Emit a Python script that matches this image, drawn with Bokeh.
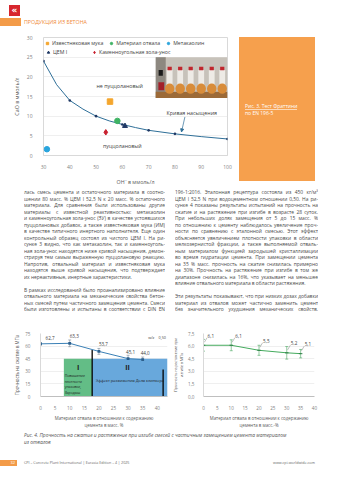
from bokeh.plotting import figure
from bokeh.layouts import column, row
from bokeh.models import (ColumnDataSource, Range1d, FixedTicker, Legend, LegendItem,
                          LabelSet, Label, Arrow, NormalHead, Whisker, TeeHead, Div,
                          CustomJSTickFormatter)
from bokeh.embed import file_html
from bokeh.resources import INLINE
from bokeh.core.properties import value

FONT = "Open Sans"
TICK = "#7f7f7f"
AXT = "#595959"

# ---------------- Fig. 3 data (Frattini test) ----------------
curve_oh = [30, 35, 40, 45, 50, 55, 60, 65, 70, 80, 90, 100]
curve_cao = [24.0, 18.0, 14.0, 11.8, 10.0, 8.8, 7.9, 7.1, 6.4, 5.5, 4.8, 4.2]
node_oh = [30, 40, 50, 60, 70, 80, 100]
node_cao = [24.0, 14.0, 10.0, 7.9, 6.4, 5.5, 4.2]

materials = ["Известняковая мука", "Материал отвала", "Метакаолин", "ЦЕМ I",
             "Каменноугольная зола-унос"]
mat_oh = [55.3, 58.1, 31.3, 61.0, 53.7]
mat_cao = [13.7, 8.8, 1.6, 7.5, 5.9]
mat_marker = ["square", "circle", "circle", "triangle", "diamond"]
mat_color = ["#f4a62e", "#3fb364", "#2aa5dd", "#1f3864", "#c8202f"]

x3_ticks = [30, 40, 50, 60, 70, 80, 90, 100]
y3_ticks = [0, 5, 10, 15, 20, 25, 30]

# ---------------- Fig. 4 data (strength) ----------------
repl = [0, 10, 20, 30, 35]
comp = [62.7, 63.3, 53.7, 45.1, 44.0]
comp_err = [1.5, 4.0, 3.5, 4.0, 3.0]
flex = [6.1, 6.1, 5.5, 5.2, 5.1]
flex_err = [0.7, 0.65, 0.6, 0.75, 0.5]
zone_name = ["I", "II"]
zone_left = [8.0, 17.7]
zone_right = [17.7, 43.5]
zone_top = [45.0, 45.0]
zone_text = ["Повышение\nплотности\nупаковки,\nЗародыш\nкристаллизации",
             "Эффект разжижения Доля клинкера"]
x4_ticks = [0, 5, 10, 15, 20, 25, 30, 35, 40]
y4a_ticks = [0, 15, 30, 45, 60, 75]
y4b_ticks = [0, 1.5, 3.0, 4.5, 6.0, 7.5]

# label placement (screen px, style only)
comp_lab_dx = [5, 0, 0, -2, -2]
comp_lab_dy = [4, 5, 5, 5, 5]


def style(p, tick_fs="5px", lab_fs="5.3px"):
    p.toolbar.logo = None
    p.background_fill_color = "white"
    p.border_fill_color = "white"
    for ax in (p.xaxis[0], p.yaxis[0]):
        ax.major_tick_line_color = None
        ax.minor_tick_line_color = None
        ax.major_label_text_font = FONT
        ax.major_label_text_font_size = tick_fs
        ax.major_label_text_color = TICK
        ax.axis_label_text_font = FONT
        ax.axis_label_text_font_style = "normal"
        ax.axis_label_text_font_size = lab_fs
        ax.axis_label_text_color = AXT
    p.xgrid.grid_line_color = None
    p.ygrid.grid_line_color = "#e4e4e4"
    p.ygrid.grid_line_width = 0.6


# ================= Figure 3 =================
p3 = figure(width=235, height=155, x_range=Range1d(30, 100), y_range=Range1d(0, 30),
            output_backend="svg", toolbar_location=None,
            min_border_left=43, min_border_right=8, min_border_top=4, min_border_bottom=24)
style(p3)
p3.outline_line_color = "#d9d9d9"
p3.xaxis.ticker = FixedTicker(ticks=x3_ticks)
p3.yaxis.ticker = FixedTicker(ticks=y3_ticks)
p3.xaxis.axis_label = "OH⁻ в ммоль/л"
p3.yaxis.axis_label = "CaO в ммоль/л"
p3.xaxis.axis_line_color = "#d9d9d9"
p3.yaxis.axis_line_color = None
p3.xaxis.major_label_standoff = 3
p3.yaxis.major_label_standoff = 5
p3.xaxis.axis_label_standoff = 6
p3.yaxis.axis_label_standoff = 3

# photo inset (decorative stand-in for the photograph of the test flasks)
p3.quad(left=72.7, right=100, bottom=14.6, top=25.0, fill_color="#c7c2ba", line_color=None)
p3.quad(left=72.7, right=76.5, bottom=14.6, top=25.0, fill_color="#8d8880", line_color=None)
p3.quad(left=72.7, right=100, bottom=14.6, top=16.2, fill_color="#9c6a38", line_color=None)
p3.rect(x=[78, 82, 86, 90, 94, 98], y=[19.5] * 6, width=2.2, height=4.5,
        fill_color="#eeebe6", line_color=None)
p3.ellipse(x=[78, 82, 86, 90, 94, 98], y=[17.0] * 6, width=3.6, height=2.6,
           fill_color="#d88c3a", line_color=None)
p3.rect(x=[78, 82, 86, 90, 94, 98], y=[22.1] * 6, width=1.6, height=0.9,
        fill_color="#c0262d", line_color=None)
p3.rect(x=[74.6], y=[21.0], width=1.6, height=1.5, fill_color="#1a1a1a", line_color=None)
p3.rect(x=[74.8], y=[17.6], width=2.2, height=2.0, fill_color="#a3202a", line_color=None)

p3.line(curve_oh, curve_cao, line_color="#2f6f98", line_width=1)
p3.scatter(node_oh, node_cao, marker="circle", size=2.6, fill_color="#1f3864", line_color=None)

rends = {}
for n, x, y, mk, c in zip(materials, mat_oh, mat_cao, mat_marker, mat_color):
    rends[n] = p3.scatter([x], [y], marker=mk, size=5.5 if mk != "triangle" else 5,
                          fill_color=c, line_color=c)


def mk_legend(names, loc, spacing):
    lg = Legend(items=[LegendItem(label=n, renderers=[rends[n]]) for n in names],
                location=loc, orientation="horizontal", spacing=spacing,
                padding=0, margin=0, glyph_width=6, glyph_height=6, label_height=6,
                label_standoff=2, label_text_font=FONT, label_text_font_size="5.2px",
                label_text_color="#404040", border_line_color=None,
                background_fill_alpha=0)
    return lg


p3.add_layout(mk_legend(materials[:3], (1, 108), 5))
p3.add_layout(mk_legend(materials[3:], (2, 99), 18))

for txt, x, y in [("не пуццолановый", 59.0, 17.7), ("пуццолановый", 60.0, 2.5),
                  ("Кривая насыщения", 86.4, 10.9)]:
    p3.add_layout(Label(x=x, y=y, text=txt, text_font=FONT, text_font_size="5.3px",
                        text_color="#404040", text_align="center", text_baseline="middle"))
p3.add_layout(Arrow(end=NormalHead(size=3, fill_color="#2f6f98", line_color="#2f6f98"),
                    x_start=83.8, y_start=9.8, x_end=82.5, y_end=6.0,
                    line_color="#2f6f98", line_width=0.7))

# ================= Figure 4a: compressive strength =================
p4a = figure(width=170, height=102, x_range=Range1d(0, 43.5), y_range=Range1d(0, 75),
             output_backend="svg", toolbar_location=None,
             min_border_left=40, min_border_right=3, min_border_top=5, min_border_bottom=20)
style(p4a, tick_fs="4.6px", lab_fs="4.4px")
p4a.outline_line_color = None
p4a.xaxis.ticker = FixedTicker(ticks=x4_ticks)
p4a.yaxis.ticker = FixedTicker(ticks=y4a_ticks)
p4a.xaxis.axis_label = "Материал отвала в отношении к содержанию\nцемента в масс. %"
p4a.yaxis.axis_label = "Прочность на сжатие в МПа"
p4a.xaxis.axis_line_color = "#bfbfbf"
p4a.yaxis.axis_line_color = "#d9d9d9"
p4a.xaxis.major_label_standoff = 3
p4a.yaxis.major_label_standoff = 4
p4a.xaxis.axis_label_standoff = 2
p4a.yaxis.axis_label_standoff = 2

zsrc = ColumnDataSource(dict(l=zone_left, r=zone_right, t=zone_top, b=[0, 0],
                             c=["#63bd86", "#68a8dc"], n=zone_name, txt=zone_text))
p4a.quad(left="l", right="r", top="t", bottom="b", fill_color="c", line_color=None, source=zsrc)
p4a.segment(x0=[zone_left[1], 42.0], y0=[0, 0], x1=[zone_left[1], 42.0], y1=[55.5, 32.0],
            line_color="black", line_width=1.3)
p4a.text(x=[12.9, 29.8], y=[34, 34], text=zone_name, text_font=value(FONT),
         text_font_size="7px", text_font_style="bold", text_color="#1a1a1a",
         text_align="center", text_baseline="middle")
p4a.text(x=[zone_left[0] + 0.3], y=[28], text=[zone_text[0]], text_font=value(FONT),
         text_font_size="3.4px", text_color="#1a1a1a", text_align="left",
         text_baseline="top", text_line_height=1.15)
p4a.text(x=[zone_left[1] + 1.2], y=[19], text=[zone_text[1]], text_font=value(FONT),
         text_font_size="3.9px", text_color="#1a1a1a", text_align="left",
         text_baseline="middle")

csrc = ColumnDataSource(dict(x=repl, y=comp, up=[v + e for v, e in zip(comp, comp_err)],
                             lo=[v - e for v, e in zip(comp, comp_err)],
                             lab=[f"{v:.1f}".replace(".", ",") for v in comp],
                             dx=comp_lab_dx, dy=comp_lab_dy))
p4a.add_layout(Whisker(base="x", upper="up", lower="lo", source=csrc, line_color="#7a8a99",
                       line_width=0.6,
                       upper_head=TeeHead(size=3, line_color="#7a8a99", line_width=0.6),
                       lower_head=TeeHead(size=3, line_color="#7a8a99", line_width=0.6)))
p4a.line("x", "y", source=csrc, line_color="#3b80b6", line_width=1)
p4a.scatter("x", "y", source=csrc, marker="square", size=2.8, fill_color="#2c5f8c", line_color=None)
p4a.add_layout(LabelSet(x="x", y="y", text="lab", source=csrc, x_offset="dx", y_offset="dy",
                        text_font=value(FONT), text_font_size="4.6px", text_color="#404040",
                        text_align="left", text_baseline="bottom"))
p4a.add_layout(Label(x=43, y=70, text="w/z = 0,50", text_font=FONT, text_font_size="3.8px",
                     text_color="#404040", text_align="right", text_baseline="middle"))

# ================= Figure 4b: flexural strength =================
p4b = figure(width=169, height=102, x_range=Range1d(0, 40), y_range=Range1d(0, 7.5),
             output_backend="svg", toolbar_location=None,
             min_border_left=22, min_border_right=25, min_border_top=5, min_border_bottom=20)
style(p4b, tick_fs="4.6px", lab_fs="4.4px")
p4b.outline_line_color = None
p4b.xaxis.ticker = FixedTicker(ticks=x4_ticks)
p4b.yaxis.ticker = FixedTicker(ticks=y4b_ticks)
p4b.yaxis.formatter = CustomJSTickFormatter(code="return tick.toFixed(1).replace('.', ',');")
p4b.xaxis.axis_label = "Материал отвала в отношении к содержанию\nцемента в масс.-%"
p4b.yaxis.axis_label = "Прочность на растяжение при\nизгибе в МПа"
p4b.yaxis.axis_label_text_font_size = "3.6px"
p4b.xaxis.axis_line_color = "#bfbfbf"
p4b.yaxis.axis_line_color = "#d9d9d9"
p4b.xaxis.major_label_standoff = 3
p4b.yaxis.major_label_standoff = 3
p4b.xaxis.axis_label_standoff = 2
p4b.yaxis.axis_label_standoff = 1

fsrc = ColumnDataSource(dict(x=repl, y=flex, up=[v + e for v, e in zip(flex, flex_err)],
                             lo=[v - e for v, e in zip(flex, flex_err)],
                             lab=[f"{v:.1f}".replace(".", ",") for v in flex],
                             lx0=[x + 0.3 for x in repl], ly0=[v + 0.35 for v in flex],
                             lx1=[x + 1.3 for x in repl], ly1=[v + 0.9 for v in flex]))
p4b.add_layout(Whisker(base="x", upper="up", lower="lo", source=fsrc, line_color="#4aa862",
                       line_width=0.6,
                       upper_head=TeeHead(size=3, line_color="#4aa862", line_width=0.6),
                       lower_head=TeeHead(size=3, line_color="#4aa862", line_width=0.6)))
p4b.line("x", "y", source=fsrc, line_color="#45ab5e", line_width=1)
p4b.scatter("x", "y", source=fsrc, marker="dash", size=3.5, line_color="#2e7d45", line_width=1)
p4b.segment(x0="lx0", y0="ly0", x1="lx1", y1="ly1", source=fsrc, line_color="#7f7f7f",
            line_width=0.5)
p4b.add_layout(LabelSet(x="lx1", y="ly1", text="lab", source=fsrc, x_offset=0.5, y_offset=0,
                        text_font=value(FONT), text_font_size="4.6px", text_color="#404040",
                        text_align="left", text_baseline="bottom"))

# ================= page text =================
left_lines = [
    "лась смесь цемента и остаточного материала в соотно-",
    "шении 80 масс. % ЦЕМ I 52,5 N к 20 масс. % остаточного",
    "материала. Для сравнения были использованы другие",
    "материалы с известной реактивностью: метакаолин",
    "и каменноугольная зола-унос (ЗУ) в качестве устоявшихся",
    "пуццолановых добавок, а также известняковая мука (ИМ)",
    "в качестве типичного инертного наполнителя. Еще один",
    "контрольный образец состоял из чистого ЦЕМ I. На ри-",
    "сунке 3 видно, что как метакаолин, так и каменноуголь-",
    "ная зола-унос находятся ниже кривой насыщения, демон-",
    "стрируя тем самым выраженную пуццолановую реакцию.",
    "Напротив, отвальный материал и известняковая мука",
    "находятся выше кривой насыщения, что подтверждает",
    "их нереактивные, инертные характеристики.|",
    "",
    "В рамках исследований было проанализировано влияние",
    "отвального материала на механические свойства бетон-",
    "ных смесей путем частичного замещения цемента. Смеси",
    "были изготовлены и испытаны в соответствии с DIN EN",
]
right_lines = [
    "196-1:2016. Эталонная рецептура состояла из 450 кг/м³",
    "ЦЕМ I 52,5 N при водоцементном отношении 0,50. На ри-",
    "сунке 4 показаны результаты испытаний на прочность на",
    "сжатие и на растяжение при изгибе в возрасте 28 суток.",
    "При небольших долях замещения от 5 до 15 масс. %",
    "по отношению к цементу наблюдалось увеличение проч-",
    "ности по сравнению с эталонной смесью. Этот эффект",
    "объясняется увеличением плотности упаковки в области",
    "мелкозернистой фракции, а также выполняемой отваль-",
    "ным материалом функцией зародышей кристаллизации",
    "во время гидратации цемента. При замещении цемента",
    "на 35 % масс. прочность на сжатие снизилась примерно",
    "на 30%. Прочность на растяжение при изгибе в том же",
    "диапазоне снизилась на 16%, что указывает на меньшее",
    "влияние отвального материала в области растяжения.|",
    "",
    "Эти результаты показывают, что при низких дозах добавки",
    "материал из отвалов может частично заменить цемент",
    "без значительного ухудшения механических свойств.",
]


def col_html(lines, w):
    out = []
    for ln in lines:
        last = ln.endswith("|")
        t = ln.rstrip("|")
        al = "left" if last else "justify"
        out.append(f'<div style="width:{w}px;height:6.5px;line-height:6.5px;white-space:nowrap;'
                   f'overflow:hidden;text-align:justify;text-align-last:{al};">{t or "&nbsp;"}</div>')
    return (f'<div style="font-family:\'{FONT}\';font-size:4.9px;color:#4a4a4a;'
            f'letter-spacing:-0.02px;">' + "".join(out) + "</div>")


header = Div(width=339, height=33, margin=0, text=(
    '<div style="position:relative;width:339px;height:33px;">'
    '<div style="position:absolute;left:9px;top:5px;width:11px;height:11px;background:#d7262d;'
    'color:#fff;font:bold 9px \'DejaVu Sans\';text-align:center;line-height:10px;">«</div>'
    '<div style="position:absolute;left:0;top:18px;width:21px;height:8px;background:#f39b48;"></div>'
    f'<div style="position:absolute;left:24px;top:18px;font-family:\'{FONT}\';font-size:5.3px;'
    'line-height:8px;color:#f08c3a;white-space:nowrap;">ПРОДУКЦИЯ ИЗ БЕТОНА</div></div>'))

orange = Div(width=76, height=144, margin=(4, 0, 0, 4), text=(
    '<div style="position:relative;width:76px;height:144px;background:#f6a04d;">'
    f'<div style="position:absolute;left:6px;top:66px;font-family:\'{FONT}\';font-size:5px;'
    'line-height:6.5px;color:#fff;white-space:nowrap;">'
    '<span style="border-bottom:0.5px solid rgba(255,255,255,0.6);">Рис. 3. Тест Фраттини</span>'
    '<br>по EN 196-5</div></div>'))

left_txt = Div(width=141, height=139, margin=(1, 0, 0, 24), text=col_html(left_lines, 141))
right_txt = Div(width=143, height=139, margin=(1, 0, 0, 10), text=col_html(right_lines, 143))

caption = Div(width=339, height=18, margin=0, text=(
    f'<div style="padding:2px 0 0 24px;font-family:\'{FONT}\';font-size:4.9px;line-height:7px;'
    'font-style:italic;color:#555;white-space:nowrap;">'
    'Рис. 4. Прочность на сжатие и растяжение при изгибе смесей с частичным замещением цемента материалом'
    '<br>из отвалов</div>'))

footer = Div(width=339, height=32, margin=0, text=(
    '<div style="position:relative;width:339px;height:32px;">'
    '<div style="position:absolute;left:0;top:12px;width:17px;height:6px;background:#f39b48;'
    f'color:#fff;font-family:\'{FONT}\';font-size:4px;line-height:6px;text-align:right;'
    'padding-right:2px;box-sizing:border-box;">32</div>'
    f'<div style="position:absolute;left:24px;top:12px;font-family:\'{FONT}\';font-size:3.7px;'
    'line-height:6px;color:#666;white-space:nowrap;">CPI – Concrete Plant International | '
    'Eurasia Edition – 4 | 2025</div>'
    f'<div style="position:absolute;right:24px;top:12px;font-family:\'{FONT}\';font-size:3.7px;'
    'line-height:6px;color:#666;white-space:nowrap;">www.cpi-worldwide.com</div></div>'))

layout = column(
    header,
    row(p3, orange, spacing=0),
    row(left_txt, right_txt, spacing=0),
    row(p4a, p4b, spacing=0),
    caption,
    footer,
    spacing=0,
)

open("out.html", "w").write(file_html(layout, INLINE))
